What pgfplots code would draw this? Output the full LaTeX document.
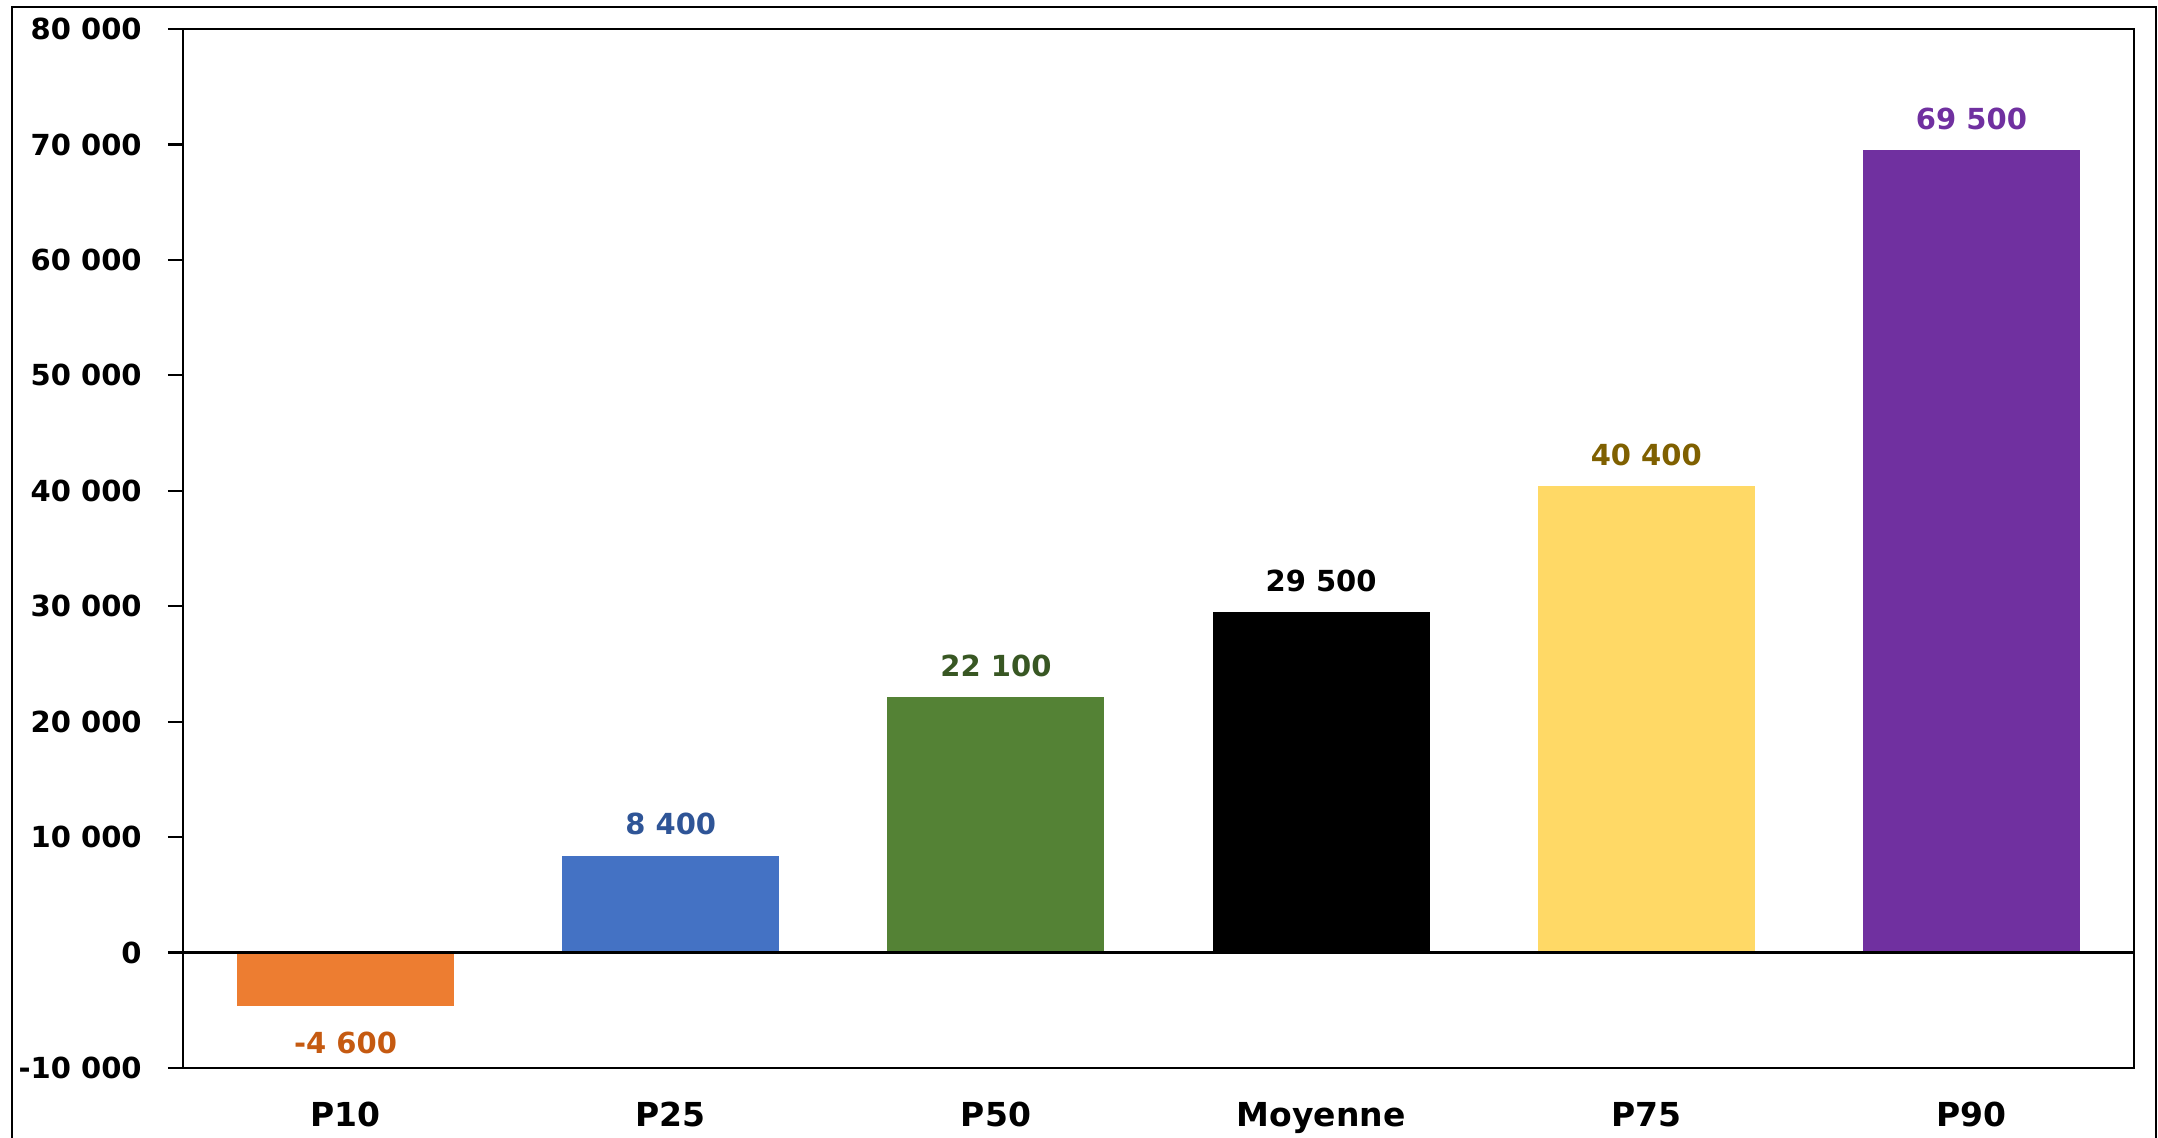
\documentclass[border=0pt]{standalone}
\usepackage{pgfplots}
\pgfplotsset{compat=1.18}
\usepackage{fontspec}
\setmainfont{DejaVu Sans}
\definecolor{cOr}{HTML}{ED7D31}
\definecolor{cBl}{HTML}{4472C4}
\definecolor{cGr}{HTML}{548235}
\definecolor{cYe}{HTML}{FFD966}
\definecolor{cPu}{HTML}{7030A0}
\definecolor{tOr}{HTML}{C55A11}
\definecolor{tBl}{HTML}{2F5597}
\definecolor{tGr}{HTML}{385723}
\definecolor{tYe}{HTML}{7F6000}
\definecolor{tPu}{HTML}{7030A0}
\pgfplotsset{
  /pgf/number format/.cd, fixed, precision=0, 1000 sep={\ }, assume math mode=true,
  /pgfplots/.cd,
  lbl/.style={nodes near coords={\pgfmathprintnumber{\pgfplotspointmeta}},
    every node near coord/.append style={font=\bfseries\fontsize{14.5}{14.5}\selectfont, text=#1, inner ysep=10pt}},
}
\begin{document}
\begin{tikzpicture}
\useasboundingbox (-91.5pt,-35pt) rectangle (987.5pt,534pt);
\draw[line width=1pt, black] (-85.5pt,-36pt) -- (-85.5pt,530.5pt) -- (986.5pt,530.5pt) -- (986.5pt,-36pt);
\begin{axis}[
  at={(0pt,0pt)}, anchor=south west,
  scale only axis, width=975.5pt, height=519.5pt,
  xmin=-0.5, xmax=5.5, ymin=-10000, ymax=80000,
  ytick={-10000,0,10000,20000,30000,40000,50000,60000,70000,80000},
  scaled y ticks=false,
  xtick={0,1,2,3,4,5}, xticklabels={P10,P25,P50,Moyenne,P75,P90},
  axis line style={line width=1.1pt, black},
  tick align=outside, ytick pos=left,
  xtick style={draw=none},
  ytick style={line width=1.1pt, black},
  major tick length=7.5pt,
  yticklabel style={font=\bfseries\fontsize{14.5}{14.5}\selectfont, anchor=east, inner xsep=0pt, xshift=-13pt},
  xticklabel style={font=\bfseries\fontsize{16.5}{16.5}\selectfont, anchor=north, inner ysep=0pt, yshift=-9.5pt},
  ybar,
  clip=false,
]
\addplot[fill=cOr, draw=none, bar width=0.667, bar shift=0pt, lbl=tOr, every node near coord/.append style={inner ysep=13pt}] coordinates {(0,-4600)};
\addplot[fill=cBl, draw=none, bar width=0.667, bar shift=0pt, lbl=tBl] coordinates {(1,8400)};
\addplot[fill=cGr, draw=none, bar width=0.667, bar shift=0pt, lbl=tGr] coordinates {(2,22100)};
\addplot[fill=black, draw=none, bar width=0.667, bar shift=0pt, lbl=black] coordinates {(3,29500)};
\addplot[fill=cYe, draw=none, bar width=0.667, bar shift=0pt, lbl=tYe] coordinates {(4,40400)};
\addplot[fill=cPu, draw=none, bar width=0.667, bar shift=0pt, lbl=tPu] coordinates {(5,69500)};
\draw[line width=1.1pt, black] (axis cs:-0.5,0) -- (axis cs:5.5,0);
\end{axis}
\end{tikzpicture}
\end{document}
